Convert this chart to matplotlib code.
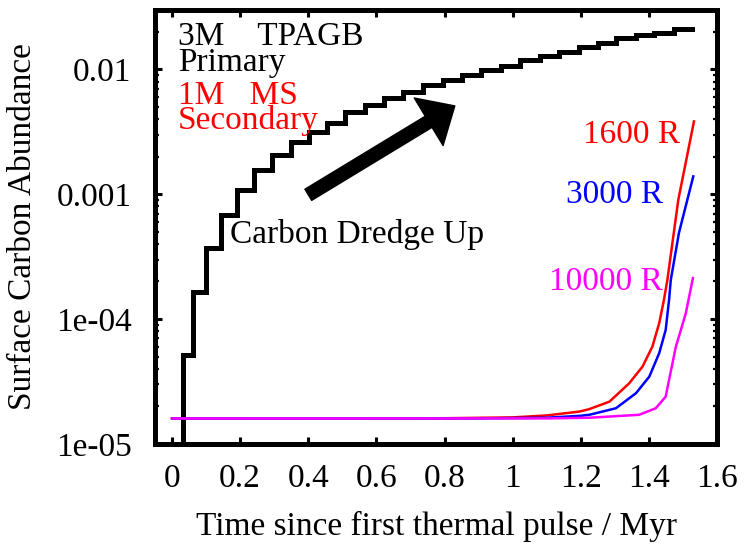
import matplotlib
matplotlib.use("Agg")
import matplotlib.pyplot as plt
from matplotlib.ticker import FixedLocator, FixedFormatter, LogLocator, NullFormatter

plt.rcParams['font.family'] = ['Liberation Serif', 'DejaVu Serif']
plt.rcParams['font.size'] = 24

# 3M TPAGB primary: surface carbon after each thermal pulse
pulse_t = [0.031, 0.031, 0.063, 0.101, 0.143, 0.192, 0.241, 0.294, 0.348, 0.401, 0.455,
	0.509, 0.567, 0.621, 0.678, 0.736, 0.794, 0.850, 0.908, 0.967, 1.020,
	1.079, 1.137, 1.196, 1.250, 1.303, 1.362, 1.415, 1.474, 1.527]
pulse_c = [1.0e-5, 5.2e-5, 1.66e-4, 3.74e-4, 6.84e-4, 1.08e-3, 1.55e-3, 2.07e-3, 2.64e-3, 3.18e-3, 3.75e-3,
	4.52e-3, 5.20e-3, 5.95e-3, 6.65e-3, 7.53e-3, 8.26e-3, 9.06e-3, 9.93e-3, 1.07e-2, 1.19e-2,
	1.29e-2, 1.39e-2, 1.52e-2, 1.64e-2, 1.78e-2, 1.89e-2, 1.97e-2, 2.10e-2, 2.10e-2]

# 1M MS secondary at three orbital separations
t_1600 = [0.0, 0.8, 1.0, 1.1, 1.196, 1.225, 1.284, 1.342, 1.381, 1.410, 1.430, 1.444, 1.454, 1.486, 1.532]
c_1600 = [1.6e-5, 1.605e-5, 1.63e-5, 1.69e-5, 1.815e-5, 1.9e-5, 2.18e-5, 3.06e-5, 4.16e-5, 6.02e-5,
	9.27e-5, 1.43e-4, 2.06e-4, 9.0e-4, 3.83e-3]

t_3000 = [0.0, 0.9, 1.1, 1.2, 1.225, 1.303, 1.362, 1.401, 1.430, 1.449, 1.459, 1.464, 1.488, 1.530]
c_3000 = [1.6e-5, 1.6e-5, 1.62e-5, 1.68e-5, 1.71e-5, 1.93e-5, 2.55e-5, 3.46e-5, 5.33e-5, 8.18e-5,
	1.43e-4, 2.06e-4, 4.91e-4, 1.39e-3]

t_10000 = [0.0, 1.1, 1.225, 1.371, 1.420, 1.449, 1.459, 1.479, 1.508, 1.529]
c_10000 = [1.6e-5, 1.6e-5, 1.62e-5, 1.71e-5, 1.93e-5, 2.39e-5, 3.26e-5, 6.02e-5, 1.11e-4, 2.13e-4]

xticks = [0, 0.2, 0.4, 0.6, 0.8, 1, 1.2, 1.4, 1.6]
xlabels = ["0", "0.2", "0.4", "0.6", "0.8", "1", "1.2", "1.4", "1.6"]
yticks = [1e-5, 1e-4, 1e-3, 1e-2]
ylabels = ["1e-05", "1e-04", "0.001", "0.01"]

fig = plt.figure(figsize=(7.47, 5.48), dpi=100)
ax = fig.add_axes([0.2075, 0.19, 0.7525, 0.792])

ax.plot(pulse_t, pulse_c, color='k', lw=3.6, drawstyle='steps-post', solid_joinstyle='miter')
ax.plot(t_1600, c_1600, color='#ff0000', lw=1.8)
ax.plot(t_3000, c_3000, color='#0000ff', lw=1.8)
ax.plot(t_10000, c_10000, color='#ff00ff', lw=1.8)

ax.set_yscale('log')
ax.set_xlim(-0.05, 1.6)
ax.set_ylim(1e-5, 0.03)

ax.xaxis.set_major_locator(FixedLocator(xticks))
ax.xaxis.set_major_formatter(FixedFormatter(xlabels))
ax.yaxis.set_major_locator(FixedLocator(yticks))
ax.yaxis.set_major_formatter(FixedFormatter(ylabels))
ax.yaxis.set_minor_locator(LogLocator(base=10, subs=range(2, 10)))
ax.yaxis.set_minor_formatter(NullFormatter())

ax.tick_params(which='both', direction='in', top=True, right=True, width=2.2)
ax.tick_params(which='major', length=5, labelsize=24)
ax.tick_params(axis='y', which='major', pad=17)
ax.tick_params(axis='x', which='major', pad=14)
ax.tick_params(which='minor', length=3, width=1.6)
for sp in ax.spines.values():
	sp.set_linewidth(3.6)

ax.set_xlabel("Time since first thermal pulse / Myr", fontsize=24, labelpad=12)
ax.set_ylabel("Surface Carbon Abundance", fontsize=24, labelpad=13)

ax.text(0.041, 0.918, "3M    TPAGB", transform=ax.transAxes, va='baseline', color='k')
ax.text(0.041, 0.859, "Primary", transform=ax.transAxes, va='baseline', color='k')
ax.text(0.041, 0.783, "1M   MS", transform=ax.transAxes, va='baseline', color='#ff0000')
ax.text(0.041, 0.725, "Secondary", transform=ax.transAxes, va='baseline', color='#ff0000')
ax.text(0.1335, 0.4624, "Carbon Dredge Up", transform=ax.transAxes, va='baseline', color='k')
ax.text(0.934, 0.693, "1600 R", transform=ax.transAxes, va='baseline', ha='right', color='#ff0000')
ax.text(0.904, 0.5546, "3000 R", transform=ax.transAxes, va='baseline', ha='right', color='#0000ff')
ax.text(0.904, 0.355, "10000 R", transform=ax.transAxes, va='baseline', ha='right', color='#ff00ff')

ax.annotate('', xy=(0.83, 5.1e-3), xytext=(0.40, 9.9e-4),
	arrowprops=dict(arrowstyle='simple,head_length=22,head_width=40,tail_width=9.4',
		mutation_scale=1, color='k', shrinkA=0, shrinkB=0))

fig.savefig("out.png", dpi=100)
